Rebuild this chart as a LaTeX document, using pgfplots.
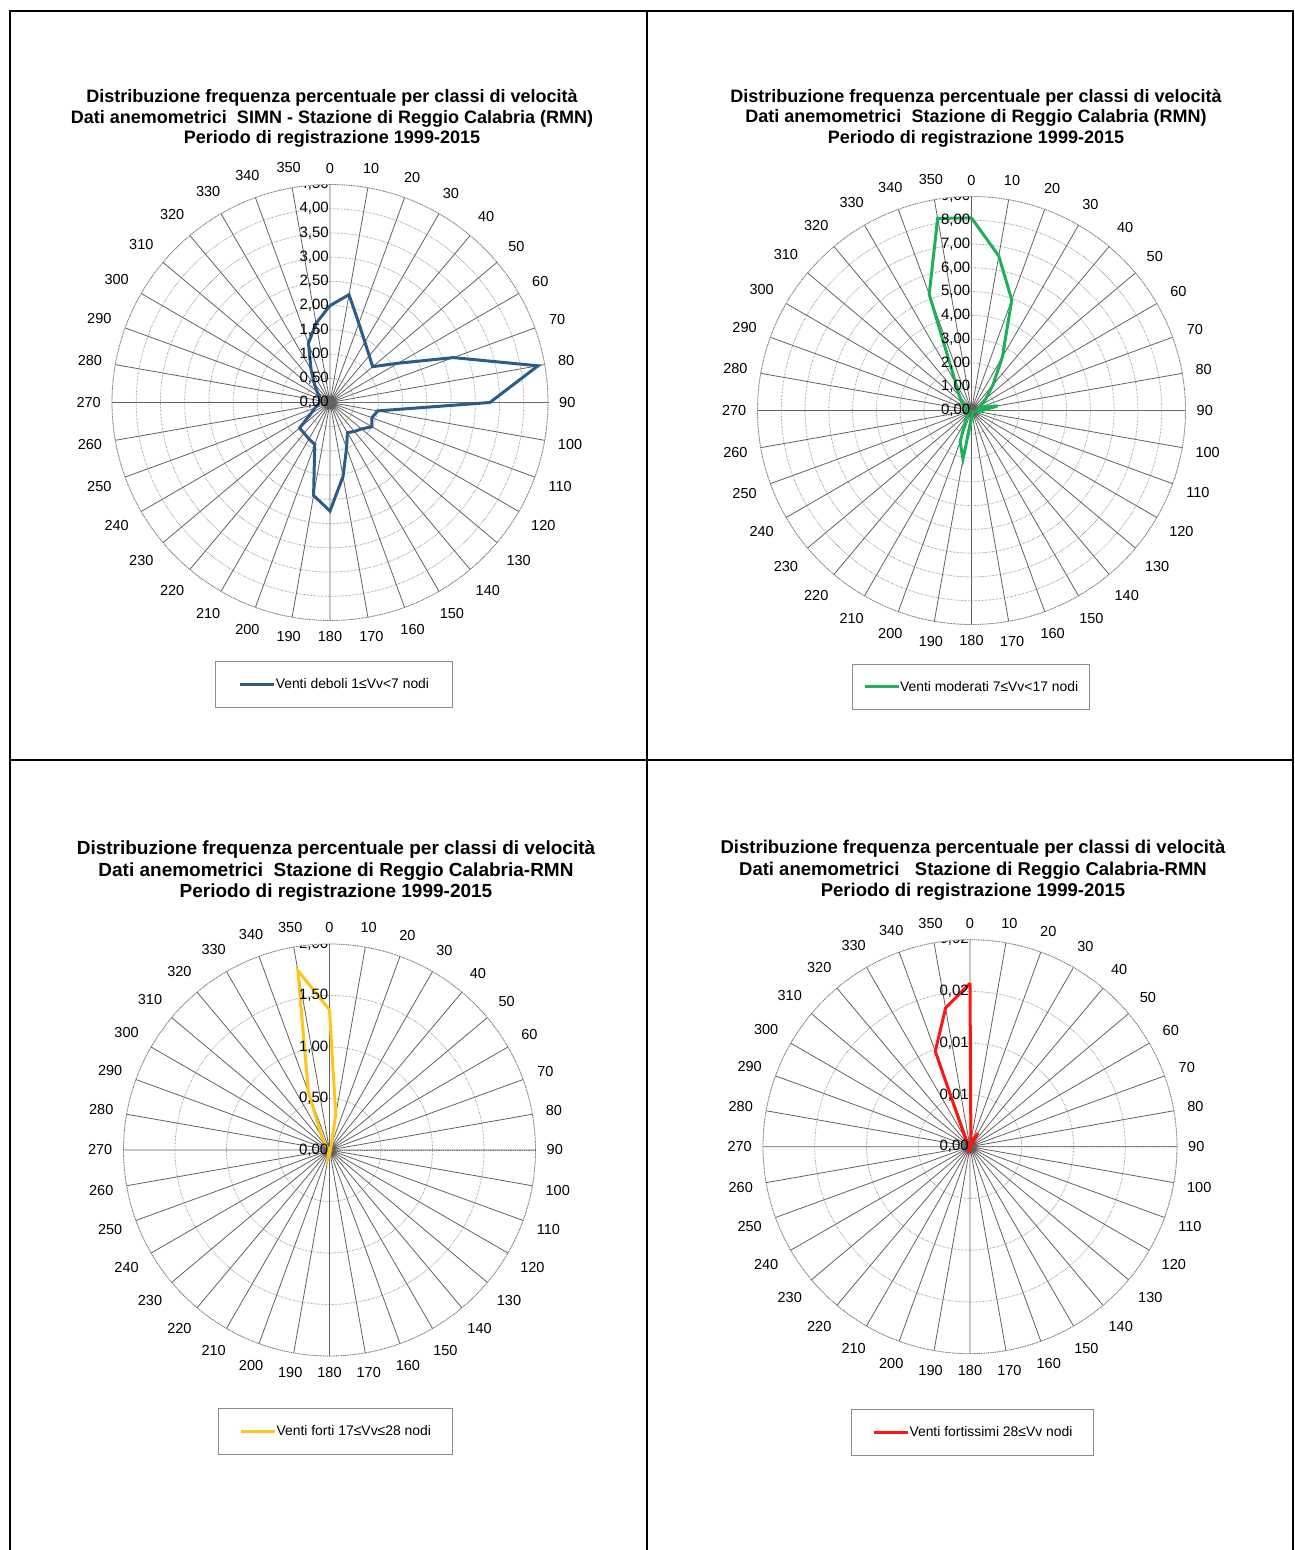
\documentclass[border=0pt]{standalone}
\usepackage{pgfplots}
\pgfplotsset{compat=1.18}
\usepgfplotslibrary{polar}
\usepackage{fontspec}
\setmainfont{Liberation Sans}

\definecolor{cBlue}{HTML}{2B5B8A}
\definecolor{cGreen}{HTML}{1DB157}
\definecolor{cYellow}{HTML}{FFC51A}
\definecolor{cRed}{HTML}{FF1414}

% compass angles (0 = north, clockwise) -> polar angles
\pgfplotsset{
  rosa/.style={
    scale only axis,
    anchor=center,
    ymin=0,
    scaled y ticks=false,
    x filter/.expression={mod(450-x,360)},
    xtick={0,10,...,350},
    xticklabels={90,80,70,60,50,40,30,20,10,0,350,340,330,320,310,300,290,280,270,260,250,240,230,220,210,200,190,180,170,160,150,140,130,120,110,100},
    xticklabel style={font=\fontsize{14.5}{14.5}\selectfont, inner sep=11pt},
    yticklabels={},
    major tick length=0pt,
    xmajorgrids, ymajorgrids,
    x grid style={black!62, line width=0.8pt},
    y grid style={black!55, densely dotted, line width=0.8pt},
    axis line style={black!55, densely dotted, line width=0.8pt},
    legend style={draw=black!45, line width=0.8pt, inner xsep=21pt, inner ysep=17pt,
      anchor=center, font=\fontsize{13.9}{13.9}\selectfont,
      nodes={inner sep=0pt}},
    legend image code/.code={\draw[##1] (0pt,0pt) -- (34pt,0pt);},
  },
}
\tikzset{rlab/.style={anchor=east, inner sep=1pt, font=\fontsize{15}{15}\selectfont}}
\newcommand{\rl}[2]{\node[rlab] at (axis cs:90,#1) {#2};}

\begin{document}
\begin{tikzpicture}[x=1pt,y=1pt]
\path[use as bounding box] (0,0) rectangle (1295,1550);

% table frame
\draw[line width=2pt] (10,0) -- (10,1539) -- (1293,1539) -- (1293,0);
\draw[line width=2pt] (647,0) -- (647,1539);
\draw[line width=2pt] (10,790) -- (1293,790);

% titles
\node[align=center, font=\bfseries\fontsize{18}{20.5}\selectfont] at (332,1431.5)
  {Distribuzione frequenza percentuale per classi di velocità\\
   Dati anemometrici\ \ SIMN - Stazione di Reggio Calabria (RMN)\\
   Periodo di registrazione 1999-2015};
\node[align=center, font=\bfseries\fontsize{18}{20.5}\selectfont] at (976,1432)
  {Distribuzione frequenza percentuale per classi di velocità\\
   Dati anemometrici\ \ Stazione di Reggio Calabria (RMN)\\
   Periodo di registrazione 1999-2015};
\node[align=center, font=\bfseries\fontsize{19}{21.5}\selectfont] at (336,678.5)
  {Distribuzione frequenza percentuale per classi di velocità\\
   Dati anemometrici\ \ Stazione di Reggio Calabria-RMN\\
   Periodo di registrazione 1999-2015};
\node[align=center, font=\bfseries\fontsize{18.5}{21.5}\selectfont] at (973,679.5)
  {Distribuzione frequenza percentuale per classi di velocità\\
   Dati anemometrici\ \ \ Stazione di Reggio Calabria-RMN\\
   Periodo di registrazione 1999-2015};

% --- Venti deboli
\begin{polaraxis}[rosa, at={(330pt,1147.5pt)}, width=436pt, height=436pt,
  ymax=4.5, ytick={0,0.5,...,4.5},
  legend style={at={(0.509,-0.147)}, inner xsep=23pt}]
\addplot[cBlue, line width=3pt] coordinates {
 (0,2.00) (10,2.26) (20,1.74) (30,1.44) (40,1.26) (50,1.15)
 (60,1.62) (70,2.71) (80,4.36) (90,3.30) (100,1.00) (110,0.92)
 (120,1.00) (130,0.85) (140,0.78) (150,0.72) (160,1.00) (170,1.55)
 (180,2.24) (190,1.95) (200,0.92) (210,0.87) (220,0.83) (230,0.82)
 (240,0.45) (250,0.33) (260,0.25) (270,0.22) (280,0.22) (290,0.22)
 (300,0.25) (310,0.35) (320,0.50) (330,0.78) (340,1.30) (350,1.66)
 (0,2.00)};
\addlegendentry{Venti deboli 1≤Vv<7 nodi}
\rl{0}{0,00}\rl{0.5}{0,50}\rl{1}{1,00}\rl{1.5}{1,50}\rl{2}{2,00}
\rl{2.5}{2,50}\rl{3}{3,00}\rl{3.5}{3,50}\rl{4}{4,00}\rl{4.5}{4,50}
\end{polaraxis}

% --- Venti moderati
\begin{polaraxis}[rosa, at={(971.5pt,1139.5pt)}, width=428pt, height=428pt,
  ymax=9, ytick={0,1,...,9},
  legend style={at={(0.498,-0.146)}, inner xsep=11pt}]
\addplot[cGreen, line width=3pt] coordinates {
 (0,8.10) (10,6.60) (20,4.95) (30,2.60) (40,1.40) (50,0.80)
 (60,0.50) (70,0.35) (80,1.12) (90,0.45) (100,0.25) (110,0.15)
 (120,0.10) (130,0.10) (140,0.10) (150,0.10) (160,0.15) (170,0.20)
 (180,0.35) (190,2.07) (200,1.40) (210,0.50) (220,0.30) (230,0.20)
 (240,0.15) (250,0.10) (260,0.10) (270,0.10) (280,0.15) (290,0.20)
 (300,0.30) (310,0.52) (320,0.79) (330,1.33) (340,5.20) (350,8.20)
 (0,8.10)};
\addlegendentry{Venti moderati 7≤Vv<17 nodi}
\rl{0}{0,00}\rl{1}{1,00}\rl{2}{2,00}\rl{3}{3,00}\rl{4}{4,00}
\rl{5}{5,00}\rl{6}{6,00}\rl{7}{7,00}\rl{8}{8,00}\rl{9}{9,00}
\end{polaraxis}

% --- Venti forti
\begin{polaraxis}[rosa, at={(329.5pt,400pt)}, width=412pt, height=412pt,
  ymax=2, ytick={0,0.5,...,2},
  legend style={at={(0.514,-0.183)}}]
\addplot[cYellow, line width=3pt] coordinates {
 (0,1.36) (10,0.35) (20,0.05) (30,0.02) (40,0.01) (50,0.01)
 (60,0.01) (70,0.01) (80,0.01) (90,0.01) (100,0.01) (110,0.01)
 (120,0.01) (130,0.01) (140,0.01) (150,0.01) (160,0.01) (170,0.02)
 (180,0.05) (190,0.08) (200,0.03) (210,0.01) (220,0.01) (230,0.01)
 (240,0.01) (250,0.01) (260,0.01) (270,0.01) (280,0.01) (290,0.01)
 (300,0.01) (310,0.02) (320,0.05) (330,0.15) (340,0.60) (350,1.77)
 (0,1.36)};
\addlegendentry{Venti forti 17≤Vv≤28 nodi}
\rl{0}{0,00}\rl{0.5}{0,50}\rl{1}{1,00}\rl{1.5}{1,50}\rl{2}{2,00}
\end{polaraxis}

% --- Venti fortissimi
\begin{polaraxis}[rosa, at={(970pt,403.3pt)}, width=414pt, height=414pt,
  ymax=0.02, ytick={0,0.005,...,0.02},
  legend style={at={(0.506,-0.190)}}]
\addplot[cRed, line width=3pt] coordinates {
 (0,0.0158) (10,0.0005) (20,0.0004) (30,0.0015) (40,0) (50,0)
 (60,0) (70,0) (80,0) (90,0) (100,0) (110,0)
 (120,0) (130,0) (140,0) (150,0) (160,0) (170,0)
 (180,0.0003) (190,0.0006) (200,0) (210,0) (220,0) (230,0)
 (240,0) (250,0) (260,0) (270,0) (280,0) (290,0)
 (300,0) (310,0) (320,0.0003) (330,0.0008) (340,0.0098) (350,0.0136)
 (0,0.0158)};
\addlegendentry{Venti fortissimi 28≤Vv nodi}
\rl{0}{0,00}\rl{0.005}{0,01}\rl{0.01}{0,01}\rl{0.015}{0,02}\rl{0.02}{0,02}
\end{polaraxis}
\end{tikzpicture}
\end{document}
